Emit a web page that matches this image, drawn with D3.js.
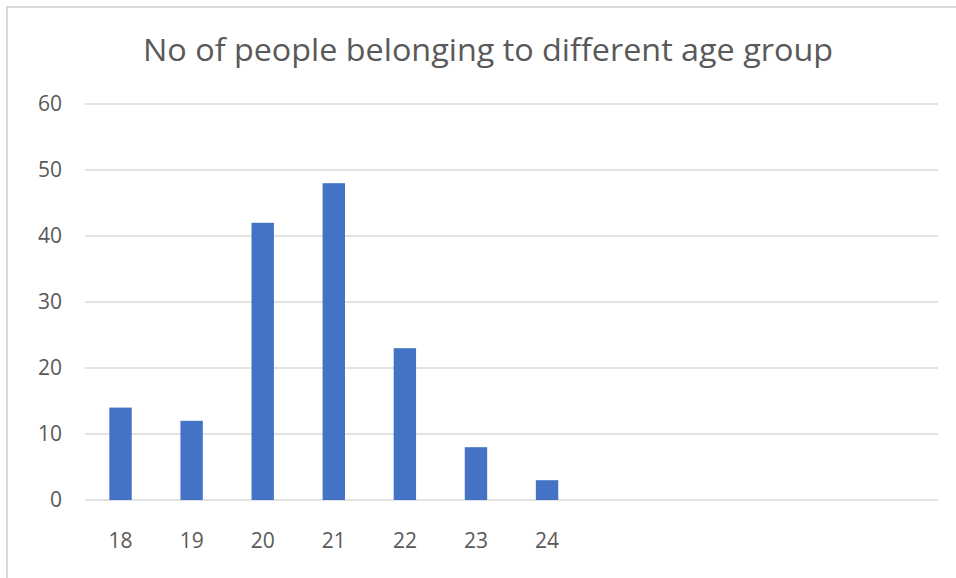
<!DOCTYPE html>
<html>
<head>
<meta charset="utf-8">
<script src="https://cdn.jsdelivr.net/npm/d3@7"></script>
<style>
  html, body { margin: 0; padding: 0; background: #fff; }
  svg { display: block; font-family: "Open Sans", Calibri, sans-serif; }
</style>
</head>
<body>
<svg id="chart" width="956" height="578"></svg>
<script>
// Age groups and head counts
const ages = ["18", "19", "20", "21", "22", "23", "24"];
const counts = [14, 12, 42, 48, 23, 8, 3];
// Empty slots that keep the category axis wide
const spareSlots = ["s1", "s2", "s3", "s4", "s5"];
const yTicks = [0, 10, 20, 30, 40, 50, 60];
const title = "No of people belonging to different age group";

const svg = d3.select("#chart");
const W = 956, H = 578;
const margin = { left: 85, right: 18, top: 104, bottom: 78 };

// Chart frame (top and left edges visible)
svg.append("rect")
  .attr("x", 7).attr("y", 7)
  .attr("width", W + 20).attr("height", H + 20)
  .attr("fill", "#fff")
  .attr("stroke", "#d9d9d9").attr("stroke-width", 2);

const x = d3.scaleBand()
  .domain(ages.concat(spareSlots))
  .range([margin.left, W - margin.right])
  .paddingInner(0.685).paddingOuter(0.3425);

const y = d3.scaleLinear()
  .domain([0, 60])
  .range([H - margin.bottom, margin.top]);

// Horizontal gridlines
svg.append("g")
  .selectAll("line")
  .data(yTicks)
  .join("line")
  .attr("x1", margin.left).attr("x2", W - margin.right)
  .attr("y1", d => y(d)).attr("y2", d => y(d))
  .attr("stroke", "#d9d9d9").attr("stroke-width", 1.5);

// Y axis labels
const yAxis = d3.axisLeft(y).tickValues(yTicks).tickSize(0).tickPadding(0);
const gy = svg.append("g")
  .attr("transform", `translate(${margin.left - 23},0)`)
  .call(yAxis);
gy.select(".domain").remove();
gy.selectAll("text")
  .attr("font-size", 21)
  .attr("font-family", "Open Sans, sans-serif")
  .attr("fill", "#595959");

// Bars
svg.append("g")
  .selectAll("rect")
  .data(ages.map((a, i) => ({ age: a, n: counts[i] })))
  .join("rect")
  .attr("x", d => x(d.age))
  .attr("width", x.bandwidth())
  .attr("y", d => y(d.n))
  .attr("height", d => y(0) - y(d.n))
  .attr("fill", "#4472c4");

// X axis labels (only real categories)
const xAxis = d3.axisBottom(x).tickValues(ages).tickSize(0).tickPadding(0);
const gx = svg.append("g")
  .attr("transform", `translate(0,${y(0) + 33})`)
  .call(xAxis);
gx.select(".domain").remove();
gx.selectAll("text")
  .attr("font-size", 21)
  .attr("font-family", "Open Sans, sans-serif")
  .attr("fill", "#595959");

// Title
svg.append("text")
  .attr("x", 488).attr("y", 61)
  .attr("text-anchor", "middle")
  .attr("font-size", 31)
  .attr("textLength", 690)
  .attr("lengthAdjust", "spacingAndGlyphs")
  .attr("fill", "#595959")
  .text(title);
</script>
</body>
</html>
